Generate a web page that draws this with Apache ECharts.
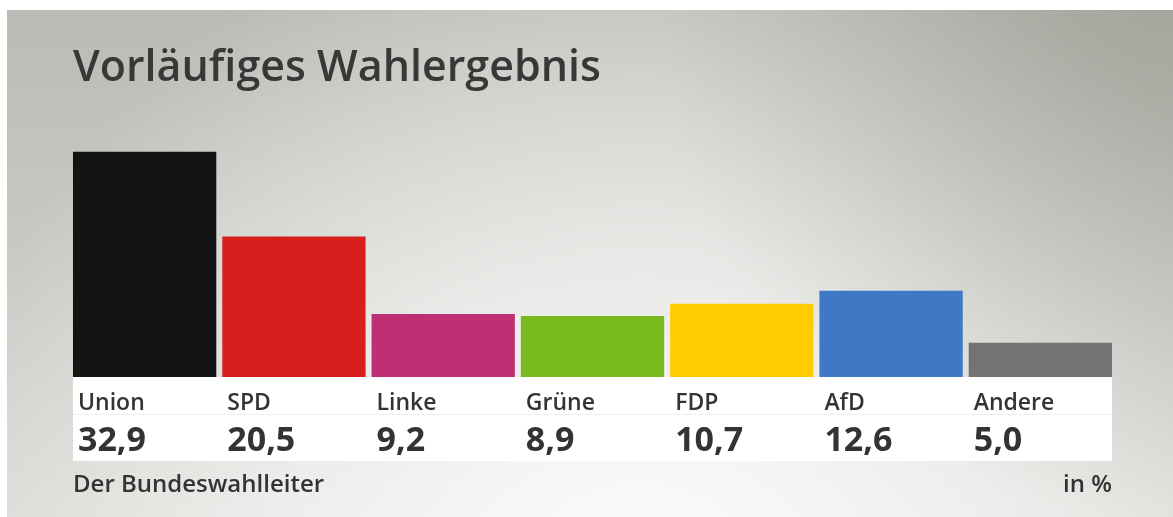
<!DOCTYPE html>
<html>
<head>
<meta charset="utf-8">
<script src="https://cdn.jsdelivr.net/npm/echarts@6/dist/echarts.min.js"></script>
<style>
  html, body { margin: 0; padding: 0; background: #ffffff; }
  #chart { width: 1173px; height: 517px; }
</style>
</head>
<body>
<div id="chart"></div>
<script>
const categories = ['Union', 'SPD', 'Linke', 'Grüne', 'FDP', 'AfD', 'Andere'];
const values = [32.9, 20.5, 9.2, 8.9, 10.7, 12.6, 5.0];
const colors = ['#141414', '#d71f1d', '#be3075', '#78bb1e', '#ffcc00', '#3f78c5', '#737373'];
const titleText = 'Vorläufiges Wahlergebnis';
const sourceText = 'Der Bundeswahlleiter';
const unitText = 'in %';

const W = 1173, H = 517;
const gridLeft = 70, gridRight = 58, gridBottom = 140, gridTop = 103;
const bandLeft = 73, bandRight = W - gridRight - 3, bandTop = H - gridBottom, bandBottom = 461;
const font = '"Open Sans", "Noto Sans", sans-serif';

const fmt = v => v.toFixed(1).replace('.', ',');

const chart = echarts.init(document.getElementById('chart'), null, { renderer: 'canvas' });
chart.setOption({
  animation: false,
  backgroundColor: '#ffffff',
  graphic: [
    {
      type: 'rect', z: -10, silent: true,
      shape: { x: 7, y: 10, width: W - 7, height: H - 10 },
      style: {
        fill: {
          type: 'linear', x: 0, y: 0, x2: 0, y2: 1,
          colorStops: [
            { offset: 0, color: '#bbbbb5' },
            { offset: 1, color: '#d9d9d5' }
          ]
        }
      }
    },
    {
      type: 'rect', z: -9, silent: true,
      shape: { x: 7, y: 10, width: W - 7, height: H - 10 },
      style: {
        fill: {
          type: 'radial', x: 640, y: 600, r: 720, global: true,
          colorStops: [
            { offset: 0, color: 'rgba(255,255,255,0.95)' },
            { offset: 0.5, color: 'rgba(255,255,255,0.55)' },
            { offset: 1, color: 'rgba(255,255,255,0)' }
          ]
        }
      }
    },
    {
      type: 'rect', z: -8, silent: true,
      shape: { x: 7, y: 10, width: W - 7, height: H - 10 },
      style: {
        fill: {
          type: 'radial', x: 1173, y: 0, r: 520, global: true,
          colorStops: [
            { offset: 0, color: 'rgba(140,140,130,0.45)' },
            { offset: 1, color: 'rgba(140,140,130,0)' }
          ]
        }
      }
    },
    {
      type: 'rect', z: -5, silent: true,
      shape: { x: bandLeft, y: bandTop, width: bandRight - bandLeft, height: bandBottom - bandTop },
      style: { fill: '#ffffff' }
    },
    {
      type: 'line', z: -4, silent: true,
      shape: { x1: bandLeft, y1: 414.5, x2: bandRight, y2: 414.5 },
      style: { stroke: '#efefef', lineWidth: 1 }
    },
    {
      type: 'text', left: 73, top: 47, silent: true,
      style: { text: titleText, font: '600 43px ' + font, fill: '#383838' }
    },
    {
      type: 'text', left: 73, top: 473, silent: true,
      style: { text: sourceText, font: '600 24px ' + font, fill: '#333333' }
    },
    {
      type: 'text', right: W - bandRight, top: 473, silent: true,
      style: { text: unitText, font: '600 24px ' + font, fill: '#333333', align: 'right' }
    }
  ],
  grid: { left: gridLeft, right: gridRight, top: gridTop, bottom: gridBottom, containLabel: false },
  xAxis: {
    type: 'category',
    data: categories,
    axisLine: { show: false },
    axisTick: { show: false },
    axisLabel: { show: false },
    splitLine: { show: false }
  },
  yAxis: {
    type: 'value', min: 0, max: 40,
    show: false,
    splitLine: { show: false }
  },
  series: [{
    type: 'bar',
    data: values.map((v, i) => ({ value: v, itemStyle: { color: colors[i] } })),
    barCategoryGap: '4%',
    label: {
      show: true,
      position: [5, '100%'],
      offset: [0, 8],
      align: 'left',
      verticalAlign: 'top',
      formatter: p => '{n|' + categories[p.dataIndex] + '}\n{v|' + fmt(values[p.dataIndex]) + '}',
      rich: {
        n: { fontFamily: font, fontWeight: 600, fontSize: 23, color: '#333333', height: 36, lineHeight: 36 },
        v: { fontFamily: font, fontWeight: 700, fontSize: 34, color: '#333333', height: 40, lineHeight: 40 }
      }
    }
  }]
});
</script>
</body>
</html>
